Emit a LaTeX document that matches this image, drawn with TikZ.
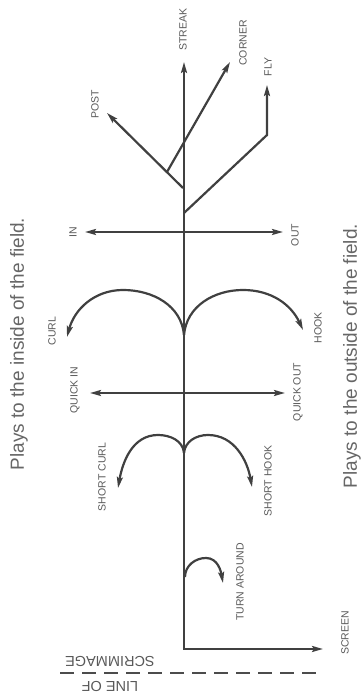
\documentclass[tikz,border=0pt]{standalone}
\usepackage{fontspec}
\setmainfont{Liberation Sans}
\usetikzlibrary{arrows.meta,positioning}

\begin{document}
\begin{tikzpicture}[
    x=1pt, y=1pt,
    >={Stealth[length=11pt, width=6pt, inset=2pt]},
    route/.style={draw, line width=2.2pt, black!75, ->},
    twoway/.style={draw, line width=2.2pt, black!75, <->},
    tag/.style={rotate=90, text=black!65, inner sep=0pt, font=\fontsize{10.5}{12}\selectfont},
    side/.style={rotate=90, text=black!60, inner sep=0pt, font=\fontsize{19}{21}\selectfont},
    scrim/.style={draw, line width=2.2pt, black!70, dash pattern=on 14pt off 8pt}
]
    \useasboundingbox (0,0) rectangle (361,698);

    % Points
    \coordinate (base) at (184,49);
    \coordinate (streak) at (184,636);
    \coordinate (screen) at (323,49);
    \coordinate (postfoot) at (183,510);
    \coordinate (post) at (107,585);
    \coordinate (cornerfoot) at (167,526);
    \coordinate (corner) at (230,636);
    \coordinate (flyfoot) at (184,485);
    \coordinate (flybend) at (267,563);
    \coordinate (fly) at (267,613);
    \coordinate (in) at (85,466);
    \coordinate (out) at (283,466);
    \coordinate (bigjoin) at (184,363);
    \coordinate (curltop) at (123,408);
    \coordinate (curl) at (67,361);
    \coordinate (hooktop) at (243,408);
    \coordinate (hook) at (303,368);
    \coordinate (quickin) at (90,305);
    \coordinate (quickout) at (285,305);
    \coordinate (smalljoin) at (184,245);
    \coordinate (scurltop) at (158,263);
    \coordinate (scurl) at (118,210);
    \coordinate (shooktop) at (208,263);
    \coordinate (shook) at (252,211);
    \coordinate (turnfoot) at (185,121);
    \coordinate (turntop) at (206,140);
    \coordinate (turn) at (223,115);
    \coordinate (losleft) at (60,25);
    \coordinate (losright) at (322,25);

    % Nodes
    \node [tag] (streaklbl) at (183,668) {STREAK};
    \node [tag] (cornerlbl) at (243,655) {CORNER};
    \node [tag] (postlbl) at (95,594) {POST};
    \node [tag] (flylbl) at (268,631) {FLY};
    \node [tag] (inlbl) at (73,466) {IN};
    \node [tag] (outlbl) at (295,463) {OUT};
    \node [tag] (curllbl) at (52,367) {CURL};
    \node [tag] (hooklbl) at (318,370) {HOOK};
    \node [tag] (quickinlbl) at (75,308) {QUICK IN};
    \node [tag] (quickoutlbl) at (298,306) {QUICK OUT};
    \node [tag] (scurllbl) at (102,221) {SHORT CURL};
    \node [tag] (shooklbl) at (268,217) {SHORT HOOK};
    \node [tag] (turnlbl) at (240,116) {TURN AROUND};
    \node [tag] (screenlbl) at (345,65) {SCREEN};
    \node [rotate=180, align=center, text=black!65, inner sep=0pt,
           font=\fontsize{14.5}{25}\selectfont] (loslbl) at (110,24) {LINE OF\\SCRIMMAGE};
    \node [side] (inside) at (19,354) {Plays to the inside of the field.};
    \node [side] (outside) at (352,342) {Plays to the outside of the field.};

    % Paths
    \path [twoway] (streak) |- (screen);
    \path [route] (postfoot) -- (post);
    \path [route] (cornerfoot) -- (corner);
    \path [route] (flyfoot) -- (flybend) -- (fly);
    \path [twoway] (in) -- (out);
    \path [route] (bigjoin) to[out=95, in=0] (curltop) to[out=180, in=75] (curl);
    \path [route] (bigjoin) to[out=85, in=180] (hooktop) to[out=0, in=115] (hook);
    \path [twoway] (quickin) -- (quickout);
    \path [route] (smalljoin) to[out=95, in=0] (scurltop) to[out=180, in=80] (scurl);
    \path [route] (smalljoin) to[out=85, in=180] (shooktop) to[out=0, in=100] (shook);
    \path [route] (turnfoot) to[out=90, in=180] (turntop) to[out=0, in=100] (turn);
    \path [scrim] (losleft) -- (losright);

\end{tikzpicture}
\end{document}
